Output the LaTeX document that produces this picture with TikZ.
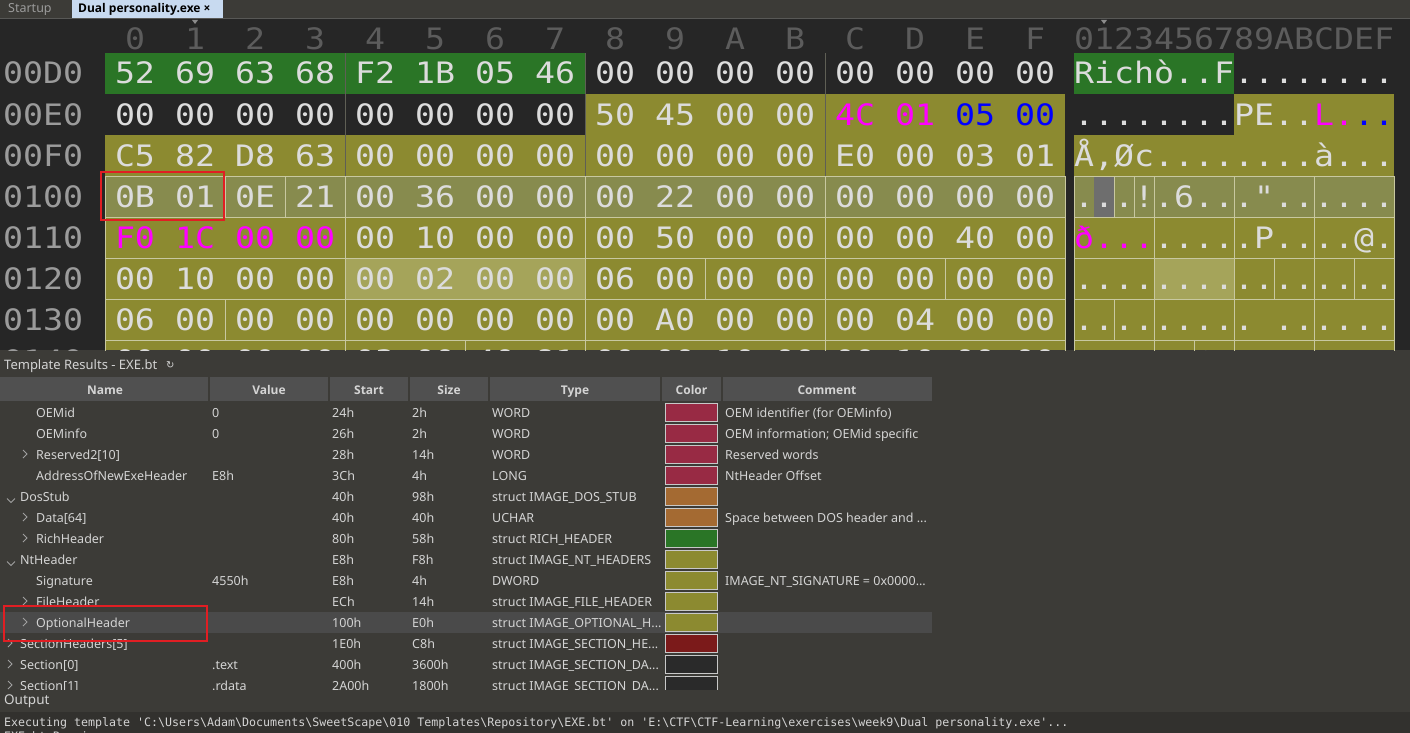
\documentclass[tikz,border=0pt]{standalone}
\usepackage{fontspec}
\setmonofont[FakeStretch=1.126]{DejaVu Sans Mono}
\newfontfamily\outfont{DejaVu Sans Mono}
\newfontfamily\uifont{Noto Sans}
\newfontfamily\uiboldfont{Open Sans}
\newfontfamily\symfont{DejaVu Sans}
\newcommand{\hxbs}{\textbackslash}
\newcommand{\hxq}{\textquotesingle}
\newcommand{\hxdots}{...}

\begin{document}
\begin{tikzpicture}[x=1pt,y=-1pt,
  hexbyte/.style={font=\ttfamily\fontsize{29.5}{30}\selectfont,text=ed_text,inner sep=0pt,anchor=base},
  addrtext/.style={hexbyte,text=ed_addr,anchor=base west},
  asctext/.style={hexbyte,anchor=base west},
  fieldbox/.style={draw=ed_pale,line width=1pt},
  redbox/.style={draw=ed_red,line width=1.6pt},
  uitext/.style={font=\uifont\fontsize{12.5}{14}\selectfont,text=tr_text,inner sep=0pt,anchor=base west},
  thead/.style={uitext,font=\uiboldfont\bfseries\fontsize{12}{14}\selectfont,anchor=base},
  swatch/.style={draw=tr_frame,line width=1pt},
  chev/.style={draw=tr_arrow,line width=1pt},
  outtext/.style={font=\outfont\fontsize{11.63}{13}\selectfont,text=tr_text,inner sep=0pt,anchor=base west}]

% ------------------------------------------------ 010 editor dark theme colors
\definecolor{ed_bg}{RGB}{38,38,38}       %#262626
\definecolor{ed_bar}{RGB}{60,59,55}      %#3C3B37
\definecolor{ed_line}{RGB}{88,88,86}
\definecolor{ed_tab}{RGB}{200,218,240}
\definecolor{ed_olive}{RGB}{140,138,48}  %#8C8A30
\definecolor{ed_oliveln}{RGB}{135,139,78}
\definecolor{ed_olivehl}{RGB}{165,164,90}
\definecolor{ed_green}{RGB}{42,117,38}
\definecolor{ed_pale}{RGB}{200,200,160}
\definecolor{ed_sep}{RGB}{95,95,85}
\definecolor{ed_text}{RGB}{220,220,220}
\definecolor{ed_addr}{RGB}{155,155,155}
\definecolor{ed_head}{RGB}{92,92,92}
\definecolor{ed_mark}{RGB}{140,140,140}
\definecolor{ed_mag}{RGB}{255,0,255}
\definecolor{ed_blue}{RGB}{0,0,255}
\definecolor{ed_cursor}{RGB}{110,110,110}
\definecolor{ed_red}{RGB}{225,30,35}
% ------------------------------------------------ template results colors
\definecolor{tr_head}{RGB}{80,80,80}
\definecolor{tr_sel}{RGB}{74,74,74}
\definecolor{tr_text}{RGB}{212,212,212}
\definecolor{tr_arrow}{RGB}{160,160,160}
\definecolor{tr_frame}{RGB}{200,200,200}
\definecolor{tr_crim}{RGB}{152,42,68}
\definecolor{tr_brown}{RGB}{164,106,50}
\definecolor{tr_dred}{RGB}{123,26,26}
\definecolor{tr_black}{RGB}{42,42,42}
\definecolor{out_bg}{RGB}{50,49,46}

\useasboundingbox (0,0) rectangle (1410,733);
\fill[ed_bar] (0,0) rectangle (1410,733);

% ------------------------------------------------ tab bar
\fill[ed_tab] (72,0) rectangle (223,18);
\draw[ed_line] (0,18.5) -- (1410,18.5);
\node[uitext,text=ed_addr] (tab-startup) at (8,13) {Startup};
\node[uitext,text=black,font=\uiboldfont\bfseries\fontsize{12}{14}\selectfont] (tab-dual) at (78,13) {Dual personality.exe ×};

% ------------------------------------------------ hex view
\begin{scope}
\clip (0,19) rectangle (1410,350);
\fill[ed_bg] (0,19) rectangle (1410,350);

\fill[ed_green] (105,53) rectangle (585,94);
\fill[ed_green] (1074,53) rectangle (1234,94);
\fill[ed_olive] (585,94) rectangle (1065,135);
\fill[ed_olive] (1234,94) rectangle (1394,135);
\fill[ed_olive] (105,135) rectangle (1065,350);
\fill[ed_olive] (1074,135) rectangle (1394,350);
\fill[ed_oliveln] (105,176) rectangle (1065,217);
\fill[ed_oliveln] (1074,176) rectangle (1394,217);
\fill[ed_olivehl] (345,258) rectangle (585,299);
\fill[ed_olivehl] (1154,258) rectangle (1234,299);
\fill[ed_cursor] (1094,176) rectangle (1114,217);

\fill[ed_mark] (192,20) -- (198,20) -- (195,24) -- cycle;
\fill[ed_mark] (1101,20) -- (1107,20) -- (1104,24) -- cycle;

\foreach \h [count=\cn from 0] in {0,1,2,3,4,5,6,7,8,9,A,B,C,D,E,F}
  \node[hexbyte,text=ed_head] (col-\cn) at ({135+60*\cn},50) {\h};
\node[asctext,text=ed_head] (asc-head) at (1074,50) {0123456789ABCDEF};

\foreach \x in {345,585,825}
  \draw[ed_sep] (\x,53) -- (\x,176);

% field outlines of the OptionalHeader, hex and text side
\foreach \rw/\a/\b in {3/0/2,3/2/3,3/3/4,3/4/8,3/8/12,3/12/16,
    4/0/4,4/4/8,4/8/12,4/12/16,
    5/0/4,5/4/8,5/8/10,5/10/12,5/12/14,5/14/16,
    6/0/2,6/2/4,6/4/8,6/8/12,6/12/16,
    7/0/4,7/4/6,7/6/8,7/8/12,7/12/16}
{
  \draw[fieldbox] ({105+60*\a},{53+41*\rw}) rectangle ({105+60*\b},{94+41*\rw});
  \draw[fieldbox] ({1074+20*\a},{53+41*\rw}) rectangle ({1074+20*\b},{94+41*\rw});
}

\foreach \rw/\adr/\row in {
  0/00D0/{52,69,63,68,F2,1B,05,46,00,00,00,00,00,00,00,00},
  1/00E0/{00,00,00,00,00,00,00,00,50,45,00,00,\textcolor{ed_mag}{4C},\textcolor{ed_mag}{01},\textcolor{ed_blue}{05},\textcolor{ed_blue}{00}},
  2/00F0/{C5,82,D8,63,00,00,00,00,00,00,00,00,E0,00,03,01},
  3/0100/{0B,01,0E,21,00,36,00,00,00,22,00,00,00,00,00,00},
  4/0110/{\textcolor{ed_mag}{F0},\textcolor{ed_mag}{1C},\textcolor{ed_mag}{00},\textcolor{ed_mag}{00},00,10,00,00,00,50,00,00,00,00,40,00},
  5/0120/{00,10,00,00,00,02,00,00,06,00,00,00,00,00,00,00},
  6/0130/{06,00,00,00,00,00,00,00,00,A0,00,00,00,04,00,00},
  7/0140/{00,00,00,00,03,00,40,81,00,00,10,00,00,10,00,00}}
{
  \node[addrtext] (ad-\rw) at (3,{84+41*\rw}) {\adr};
  \foreach \by [count=\cn from 0] in \row
    \node[hexbyte] (hx-\rw-\cn) at ({135+60*\cn},{84+41*\rw}) {\by};
}

\foreach \rw/\txt in {
  0/{Richò..F........},
  1/{........PE..\textcolor{ed_mag}{L.}\textcolor{ed_blue}{..}},
  2/{Å,Øc........à...},
  3/{...!.6..."......},
  4/{\textcolor{ed_mag}{ð...}.....P....@.},
  5/{................},
  6/{.........~......},
  7/{......@.........}}
  \node[asctext] (as-\rw) at (1074,{84+41*\rw}) {\txt};

\draw[redbox] (101,172) rectangle (224,220);
\end{scope}

% ------------------------------------------------ template results
\node[uitext,font=\uifont\fontsize{13}{15}\selectfont] (tr-title) at (4,369) {Template Results - EXE.bt};
\node[uitext,font=\symfont\fontsize{10}{12}\selectfont] (tr-reload) at (166,368) {↻};

\fill[tr_head] (0,377) rectangle (932,401);
\foreach \x in {209,329,409,489,661,722}
  \draw[ed_bar,line width=1.5pt] (\x,377) -- (\x,401);
\foreach \lab/\x in {Name/105,Value/269,Start/369,Size/449,Type/575,Color/691.5,Comment/827}
  \node[thead] (th-\lab) at (\x,394) {\lab};

\fill[tr_sel] (0,612) rectangle (932,633);

\begin{scope}
\clip (0,401) rectangle (1410,689);
\foreach \nm/\lv/\vl/\st/\sz/\ty/\cl/\cm [count=\rk] in {
  OEMid/36/0/24h/2h/WORD/tr_crim/{OEM identifier (for OEMinfo)},
  OEMinfo/36/0/26h/2h/WORD/tr_crim/{OEM information; OEMid specific},
  Reserved2[10]/36/{}/28h/14h/WORD/tr_crim/{Reserved words},
  AddressOfNewExeHeader/36/E8h/3Ch/4h/LONG/tr_crim/{NtHeader Offset},
  DosStub/20/{}/40h/98h/{struct IMAGE\_DOS\_STUB}/tr_brown/{},
  Data[64]/36/{}/40h/40h/UCHAR/tr_brown/{Space between DOS header and \hxdots},
  RichHeader/36/{}/80h/58h/{struct RICH\_HEADER}/ed_green/{},
  NtHeader/20/{}/E8h/F8h/{struct IMAGE\_NT\_HEADERS}/ed_olive/{},
  Signature/36/4550h/E8h/4h/DWORD/ed_olive/{IMAGE\_NT\_SIGNATURE = 0x0000\hxdots},
  FileHeader/36/{}/ECh/14h/{struct IMAGE\_FILE\_HEADER}/ed_olive/{},
  OptionalHeader/36/{}/100h/E0h/{struct IMAGE\_OPTIONAL\_H\hxdots}/ed_olive/{},
  SectionHeaders[5]/20/{}/1E0h/C8h/{struct IMAGE\_SECTION\_HE\hxdots}/tr_dred/{},
  Section[0]/20/.text/400h/3600h/{struct IMAGE\_SECTION\_DA\hxdots}/tr_black/{},
  Section[1]/20/.rdata/2A00h/1800h/{struct IMAGE\_SECTION\_DA\hxdots}/tr_black/{}}
{
  \node[uitext] (nm-\rk) at (\lv,{396.6+21*\rk}) {\nm};
  \node[uitext] (vl-\rk) at (212,{396.6+21*\rk}) {\vl};
  \node[uitext] (st-\rk) at (332,{396.6+21*\rk}) {\st};
  \node[uitext] (sz-\rk) at (412,{396.6+21*\rk}) {\sz};
  \node[uitext] (ty-\rk) at (492,{396.6+21*\rk}) {\ty};
  \draw[swatch,fill=\cl] (665,{382+21*\rk}) rectangle (717,{400+21*\rk});
  \node[uitext] (cm-\rk) at (725,{396.6+21*\rk}) {\cm};
}
% expand / collapse marks
\foreach \rk in {3,6,7,10,11}
  \draw[chev] (23,{387+21*\rk}) -- (27,{391+21*\rk}) -- (23,{395+21*\rk});
\foreach \rk in {12,13,14}
  \draw[chev] (8,{387+21*\rk}) -- (12,{391+21*\rk}) -- (8,{395+21*\rk});
\foreach \rk in {5,8}
  \draw[chev] (7,{393.5+21*\rk}) -- (11,{397.5+21*\rk}) -- (15,{393.5+21*\rk});
\end{scope}

\draw[redbox] (4,606) rectangle (207,641);

% ------------------------------------------------ output
\node[uitext,font=\uifont\fontsize{13.5}{15}\selectfont] (out-title) at (4,704) {Output};
\begin{scope}
\clip (0,712) rectangle (1410,733);
\fill[out_bg] (0,712) rectangle (1410,733);
\node[outtext] (out-run) at (4,726) {Executing template \hxq C:\hxbs Users\hxbs Adam\hxbs Documents\hxbs SweetScape\hxbs 010 Templates\hxbs Repository\hxbs EXE.bt\hxq{} on \hxq E:\hxbs CTF\hxbs CTF-Learning\hxbs exercises\hxbs week9\hxbs Dual personality.exe\hxq...};
\node[outtext] (out-next) at (4,740) {EXE.bt Running...};
\end{scope}

\end{tikzpicture}
\end{document}
